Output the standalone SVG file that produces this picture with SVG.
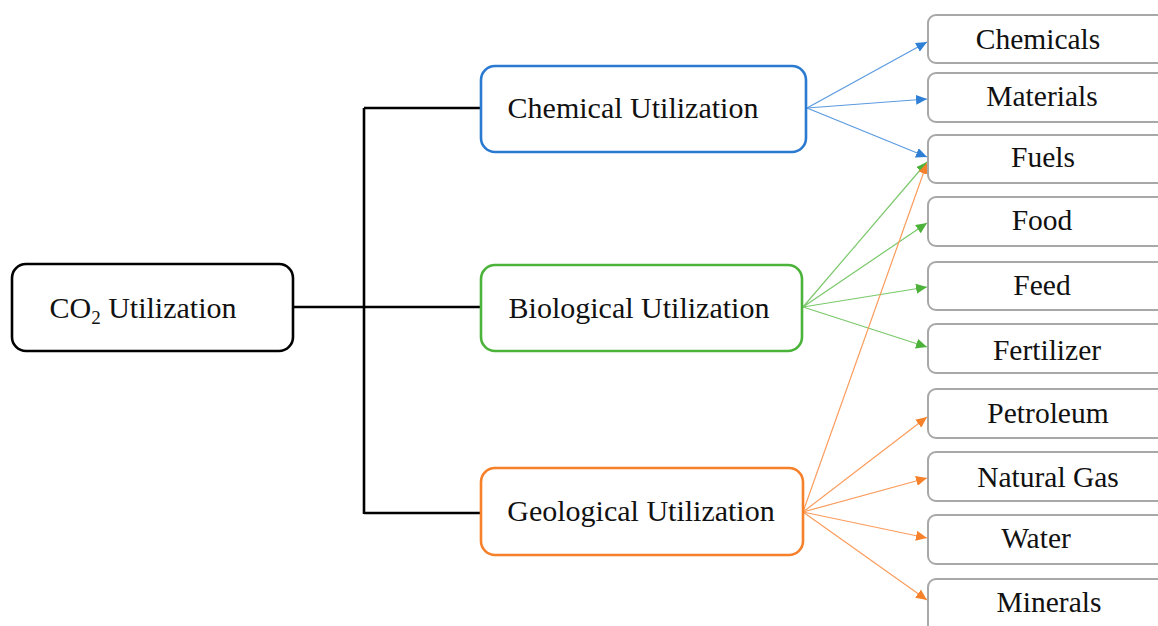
<svg xmlns="http://www.w3.org/2000/svg" width="1158" height="626" viewBox="0 0 1158 626">
<style>
text{font-family:"Liberation Serif","Times New Roman",serif;fill:#111;text-anchor:middle}
.main{font-size:30px}
.leaf{font-size:29.5px}
.cat{fill:#fff;stroke-width:2.6}
.out{fill:#fff;stroke:#a8a8a8;stroke-width:2}
.blue{stroke:#5b9ae0;stroke-width:1.2;fill:none}
.green{stroke:#7ac86a;stroke-width:1.2;fill:none}
.orange{stroke:#fb9c5c;stroke-width:1.2;fill:none}
.black{stroke:#000;stroke-width:2.6;fill:none}
</style>
<defs>
<marker id="ab" markerUnits="userSpaceOnUse" markerWidth="12" markerHeight="10" refX="11" refY="5" orient="auto"><path d="M0,0 L11,5 L0,10 Z" fill="#2f7fd6"/></marker>
<marker id="ag" markerUnits="userSpaceOnUse" markerWidth="12" markerHeight="10" refX="11" refY="5" orient="auto"><path d="M0,0 L11,5 L0,10 Z" fill="#4cb23a"/></marker>
<marker id="ao" markerUnits="userSpaceOnUse" markerWidth="12" markerHeight="10" refX="11" refY="5" orient="auto"><path d="M0,0 L11,5 L0,10 Z" fill="#f7802a"/></marker>
</defs>
<rect width="1158" height="626" fill="#fff"/>
<g id="connectors">
<path class="black" d="M293,307 H481 M364,108 V514 M364,108 H481 M364,513 H481"/>
<path class="blue" marker-end="url(#ab)" d="M807,108 L927,42"/>
<path class="blue" marker-end="url(#ab)" d="M807,108 L927,99"/>
<path class="blue" marker-end="url(#ab)" d="M807,108 L927,157"/>
<path class="green" marker-end="url(#ag)" d="M803,307 L927,162"/>
<path class="green" marker-end="url(#ag)" d="M803,307 L927,223"/>
<path class="green" marker-end="url(#ag)" d="M803,307 L927,287"/>
<path class="green" marker-end="url(#ag)" d="M803,307 L927,347"/>
<path class="orange" marker-end="url(#ao)" d="M803,512 L927,163"/>
<path class="orange" marker-end="url(#ao)" d="M803,512 L927,417"/>
<path class="orange" marker-end="url(#ao)" d="M803,512 L927,478"/>
<path class="orange" marker-end="url(#ao)" d="M803,512 L927,538"/>
<path class="orange" marker-end="url(#ao)" d="M803,512 L927,600"/>
</g>
<g id="co2">
<rect x="12" y="264" width="281" height="87" rx="14" fill="#fff" stroke="#000" stroke-width="2.6"/>
<text class="main" x="143" y="318">CO<tspan font-size="19" dy="6">2</tspan><tspan dy="-6"> Utilization</tspan></text>
</g>
<g id="chemical">
<rect class="cat" x="481" y="66" width="325" height="86" rx="14" stroke="#2a7ad2"/>
<text class="main" x="633" y="118">Chemical Utilization</text>
</g>
<g id="biological">
<rect class="cat" x="481" y="265" width="321" height="86" rx="14" stroke="#4bb33a"/>
<text class="main" x="639" y="318">Biological Utilization</text>
</g>
<g id="geological">
<rect class="cat" x="481" y="468" width="322" height="87" rx="14" stroke="#f7802a"/>
<text class="main" x="641" y="521">Geological Utilization</text>
</g>
<g id="chemicals"><rect class="out" x="928" y="15" width="260" height="48" rx="8"/><text class="leaf" x="1038" y="49">Chemicals</text></g>
<g id="materials"><rect class="out" x="928" y="73" width="260" height="49" rx="8"/><text class="leaf" x="1042" y="106">Materials</text></g>
<g id="fuels"><rect class="out" x="928" y="135" width="260" height="48" rx="8"/><text class="leaf" x="1043" y="167">Fuels</text></g>
<g id="food"><rect class="out" x="928" y="197" width="260" height="49" rx="8"/><text class="leaf" x="1042" y="230">Food</text></g>
<g id="feed"><rect class="out" x="928" y="262" width="260" height="48" rx="8"/><text class="leaf" x="1042" y="295">Feed</text></g>
<g id="fertilizer"><rect class="out" x="928" y="324" width="260" height="49" rx="8"/><text class="leaf" x="1047" y="360">Fertilizer</text></g>
<g id="petroleum"><rect class="out" x="928" y="389" width="260" height="49" rx="8"/><text class="leaf" x="1048" y="423">Petroleum</text></g>
<g id="naturalgas"><rect class="out" x="928" y="452" width="260" height="49" rx="8"/><text class="leaf" x="1048" y="487">Natural Gas</text></g>
<g id="water"><rect class="out" x="928" y="515" width="260" height="49" rx="8"/><text class="leaf" x="1036" y="548">Water</text></g>
<g id="minerals"><rect class="out" x="928" y="579" width="260" height="60" rx="8"/><text class="leaf" x="1049" y="612">Minerals</text></g>
</svg>
